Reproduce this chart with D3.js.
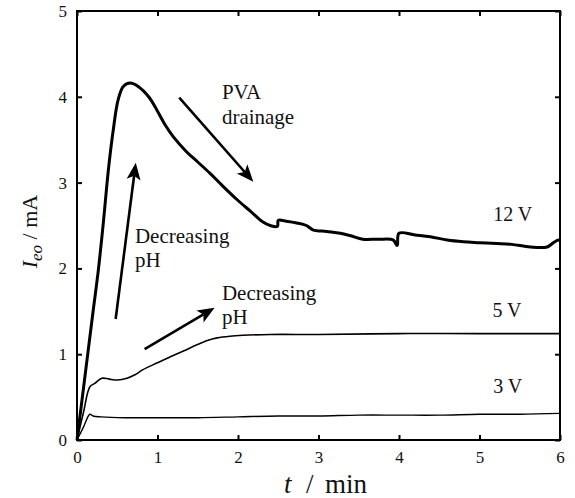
<!DOCTYPE html>
<html><head><meta charset="utf-8">
<script src="https://cdn.jsdelivr.net/npm/d3@7"></script>
<style>
html,body{margin:0;padding:0;background:#fff;}
svg{display:block;}
</style></head>
<body>
<svg id="chart" width="575" height="498"></svg>
<script>
// ---- data ----
const t12 = [0,0.1,0.2,0.265,0.33,0.39,0.45,0.51,0.575,0.66,0.76,0.89,0.99,1.09,1.2,1.36,1.5,1.65,1.8,1.99,2.15,2.31,2.40,2.49,2.50,2.6,2.73,2.85,2.93,3.1,3.27,3.4,3.55,3.75,3.93,3.97,3.98,4.0,4.2,4.39,4.6,4.8,5.0,5.21,5.4,5.63,5.84,5.92,5.98,6.0];
const v12 = [0,0.75,1.5,1.98,2.56,3.15,3.61,3.96,4.12,4.16,4.12,4.0,3.85,3.68,3.53,3.36,3.24,3.11,2.97,2.80,2.67,2.54,2.50,2.49,2.56,2.55,2.53,2.50,2.45,2.43,2.41,2.38,2.34,2.34,2.33,2.27,2.27,2.41,2.39,2.37,2.33,2.31,2.30,2.29,2.28,2.25,2.25,2.30,2.33,2.32];
const t5 = [0,0.08,0.16,0.22,0.31,0.4,0.5,0.62,0.72,0.82,1.0,1.16,1.33,1.49,1.62,1.74,1.9,2.06,2.4,3,4,5,6];
const v5 = [0,0.32,0.62,0.66,0.72,0.71,0.70,0.72,0.76,0.82,0.90,0.97,1.04,1.11,1.16,1.19,1.21,1.22,1.23,1.23,1.24,1.24,1.24];
const t3 = [0,0.08,0.16,0.2,0.3,0.6,1.0,1.5,2.0,2.5,3.0,3.5,4,4.5,5,5.5,6];
const v3 = [0,0.15,0.30,0.28,0.27,0.26,0.26,0.26,0.27,0.28,0.28,0.29,0.29,0.29,0.30,0.30,0.31];
const xTicks = [0,1,2,3,4,5,6];
const yTicks = [0,1,2,3,4,5];
const seriesLabels = ["12 V","5 V","3 V"];
const labelPos = [[5.17,2.55],[5.16,1.43],[5.17,0.55]];
// annotations (data coords)
const arrows = [[[0.48,1.41],[0.73,3.23]],[[1.27,3.99],[2.19,3.01]],[[0.84,1.06],[1.71,1.54]]];
const notes = [["PVA",1.80,3.97],["drainage",1.80,3.68],["Decreasing",0.72,2.30],["pH",0.72,2.02],["Decreasing",1.80,1.63],["pH",1.80,1.35]];

// ---- layout ----
const FONT='"Liberation Serif","Times New Roman",serif';
const W=575,H=498, m={l:77,r:15,t:11,b:58};
const svg=d3.select("#chart");
const x=d3.scaleLinear().domain([0,6]).range([m.l,W-m.r]);
const y=d3.scaleLinear().domain([0,5]).range([H-m.b,m.t]);

// axes with inward ticks
const tl=5;
function styleAxis(g){g.attr("font-family",FONT);g.select(".domain").remove();g.selectAll("text").attr("font-size",17).attr("font-family",FONT).attr("fill","#111");g.selectAll("line").attr("stroke-width",2);}
svg.append("g").attr("transform",`translate(0,${y(0)})`)
  .call(d3.axisBottom(x).tickValues(xTicks).tickSizeInner(-tl).tickSizeOuter(0).tickPadding(tl+6).tickFormat(d3.format("d")))
  .call(styleAxis);
svg.append("g").attr("transform",`translate(0,${y(5)})`)
  .call(d3.axisTop(x).tickValues(xTicks).tickSizeInner(-tl).tickSizeOuter(0).tickFormat(""))
  .call(styleAxis);
svg.append("g").attr("transform",`translate(${x(0)},0)`)
  .call(d3.axisLeft(y).tickValues(yTicks).tickSizeInner(-tl).tickSizeOuter(0).tickPadding(tl+5).tickFormat(d3.format("d")))
  .call(styleAxis);
svg.append("g").attr("transform",`translate(${x(6)},0)`)
  .call(d3.axisRight(y).tickValues(yTicks).tickSizeInner(-tl).tickSizeOuter(0).tickFormat(""))
  .call(styleAxis);
svg.append("rect").attr("x",x(0)).attr("y",y(5)).attr("width",x(6)-x(0)).attr("height",y(0)-y(5))
  .attr("fill","none").attr("stroke","#000").attr("stroke-width",2);

// lines
const line=d3.line().x(d=>x(d[0])).y(d=>y(d[1])).curve(d3.curveCatmullRom.alpha(0.5));
const series=[[t12,v12,3.0],[t5,v5,1.6],[t3,v3,1.4]];
series.forEach(([tt,vv,w])=>{
  svg.append("path").datum(tt.map((d,i)=>[d,vv[i]])).attr("d",line)
    .attr("fill","none").attr("stroke","#000").attr("stroke-width",w).attr("stroke-linejoin","round");
});

// series labels
seriesLabels.forEach((s,i)=>{
  svg.append("text").attr("x",x(labelPos[i][0])).attr("y",y(labelPos[i][1])).attr("font-size",20)
    .attr("font-family",FONT).attr("fill","#111").text(s);
});

// annotation texts
notes.forEach(([s,a,b])=>{
  svg.append("text").attr("x",x(a)).attr("y",y(b)).attr("font-size",21)
    .attr("font-family",FONT).attr("fill","#111").text(s);
});

// arrows
arrows.forEach(([p0,p1])=>{
  const x0=x(p0[0]),y0=y(p0[1]),x1=x(p1[0]),y1=y(p1[1]);
  const ang=Math.atan2(y1-y0,x1-x0);
  const L=17, Wd=7, notch=4;
  const ux=Math.cos(ang),uy=Math.sin(ang), px=-uy,py=ux;
  const bx=x1-ux*L, by=y1-uy*L;
  svg.append("line").attr("x1",x0).attr("y1",y0).attr("x2",x1-ux*(L-notch)).attr("y2",y1-uy*(L-notch))
    .attr("stroke","#000").attr("stroke-width",2.6);
  svg.append("path").attr("d",`M${x1},${y1}L${bx+px*Wd},${by+py*Wd}L${x1-ux*(L-notch)},${y1-uy*(L-notch)}L${bx-px*Wd},${by-py*Wd}Z`)
    .attr("fill","#000");
});

// axis titles
const xt=svg.append("text").attr("x",284).attr("y",493).attr("font-size",27)
  .attr("font-family",FONT).attr("fill","#111");
xt.append("tspan").attr("font-style","italic").text("t");
xt.append("tspan").attr("x",306).text("/");
xt.append("tspan").attr("x",325).text("min");
const yt=svg.append("text").attr("transform",`translate(37,${(y(0)+y(5))/2+6}) rotate(-90)`).attr("text-anchor","middle").attr("font-size",22)
  .attr("font-family",FONT).attr("fill","#111");
yt.append("tspan").attr("font-style","italic").text("I");
yt.append("tspan").attr("font-style","italic").attr("font-size",17).attr("dy",5).text("eo");
yt.append("tspan").attr("dy",-5).text(" / mA");
</script>
</body></html>
